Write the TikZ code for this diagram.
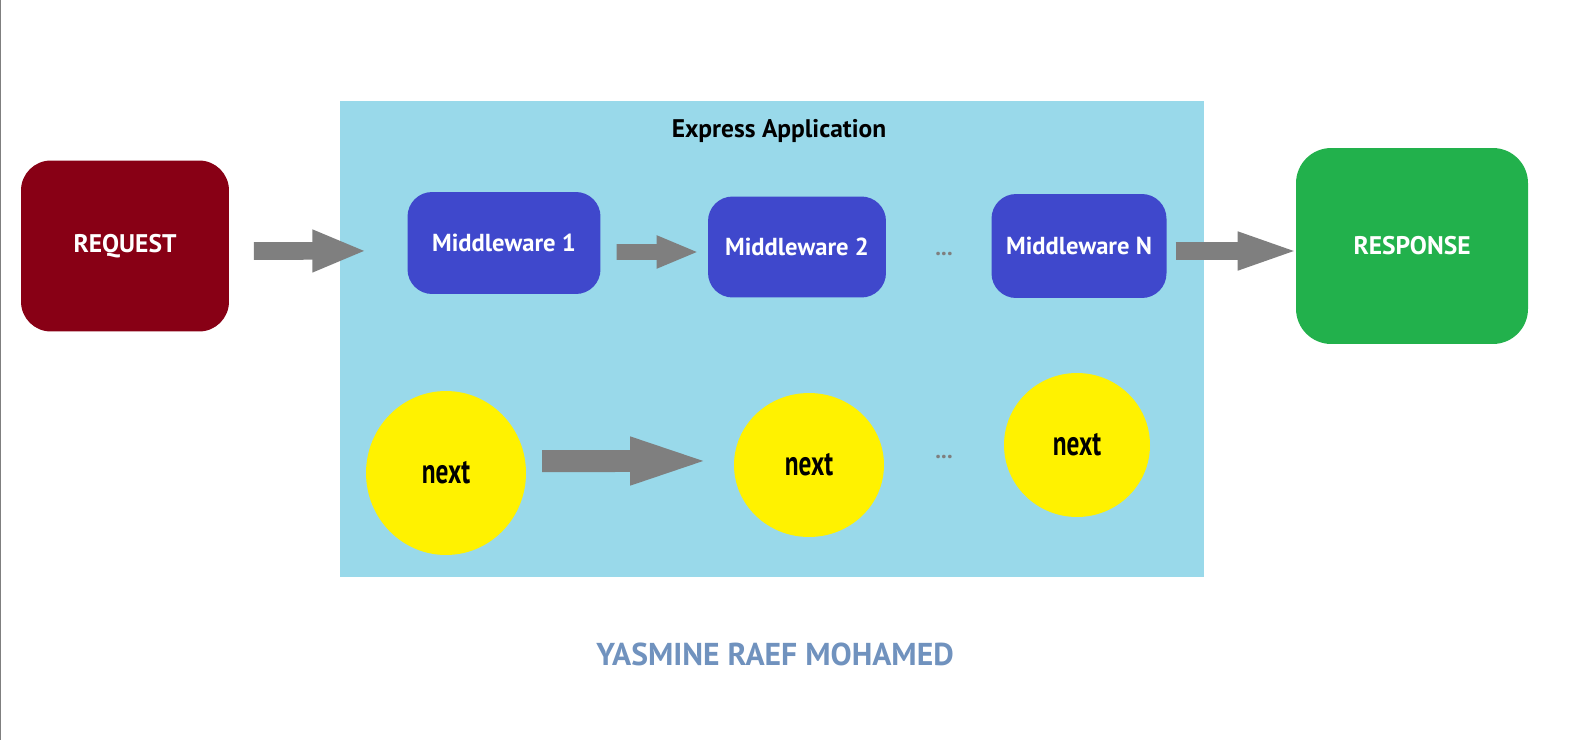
\documentclass[tikz,border=0pt]{standalone}
\usepackage{fontspec}
\setmainfont{PT Sans}
\newfontfamily\nextfont[FakeStretch=0.72]{PT Sans}
\usetikzlibrary{shapes.geometric,arrows.meta}
\definecolor{reqred}{HTML}{880015}
\definecolor{appblue}{HTML}{99D9EA}
\definecolor{mwblue}{HTML}{3F48CC}
\definecolor{resgreen}{HTML}{22B14C}
\definecolor{nextyellow}{HTML}{FFF200}
\definecolor{arrowgray}{HTML}{7F7F7F}
\definecolor{namecol}{HTML}{7092BE}
\tikzset{
  endbox/.style={rounded corners=17pt, inner sep=0pt, text=white, font=\bfseries\fontsize{14.5}{16}\selectfont},
  mwbox/.style={fill=mwblue, rounded corners=14pt, inner sep=0pt, text=white, font=\bfseries\fontsize{14}{16}\selectfont},
  nextnode/.style={ellipse, fill=nextyellow, inner sep=0pt, font=\nextfont\bfseries\fontsize{20}{22}\selectfont},
  dotsnode/.style={text=arrowgray, font=\bfseries\fontsize{13}{15}\selectfont},
  fatarrow/.style={draw=arrowgray, line width=10pt, -{Triangle[length=31pt,width=22pt]}}
}
\begin{document}
\begin{tikzpicture}[x=0.02cm, y=-0.02cm]
        \useasboundingbox (0,0) rectangle (1574,740);
        \draw[arrowgray, line width=0.6pt] (0.5,0) -- (0.5,740);
        %application
        \node[fill=appblue, minimum width=17.28cm, minimum height=9.54cm, inner sep=0pt] (app) at (772,339) {};
        \node[font=\bfseries\fontsize{14.5}{16}\selectfont] (title) at (779,131) {Express Application};
        %request and response
        \node[endbox, fill=reqred, minimum width=4.16cm, minimum height=3.42cm] (req) at (125,246) {REQUEST};
        \node[endbox, fill=resgreen, minimum width=4.64cm, minimum height=3.92cm, rounded corners=20pt] (resp) at (1412,246) {RESPONSE};
        %middlewares
        \node[mwbox, minimum width=3.86cm, minimum height=2.04cm] (mw1) at (504,243) {Middleware 1};
        \node[mwbox, minimum width=3.56cm, minimum height=2.02cm] (mw2) at (797,247) {Middleware 2};
        \node[mwbox, minimum width=3.5cm, minimum height=2.08cm] (mwn) at (1079,246) {Middleware N};
        \node[dotsnode] (dots1) at (944,254) {...};
        %next
        \node[nextnode, minimum width=3.2cm, minimum height=3.28cm] (n1) at (446,473) {next};
        \node[nextnode, minimum width=3.0cm, minimum height=2.88cm] (n2) at (809,465) {next};
        \node[nextnode, minimum width=2.92cm, minimum height=2.88cm] (n3) at (1077,445) {next};
        \node[dotsnode] (dots2) at (944,457) {...};
        \node[text=namecol, font=\bfseries\fontsize{18}{21}\selectfont] (name) at (775,654) {YASMINE RAEF MOHAMED};
        %arrows
        \draw[fatarrow] ([xshift=14pt,yshift=-2.85pt]req.east) -- ([xshift=-23pt,yshift=-4.5pt]mw1.west);
        \draw[fatarrow, line width=9pt, -{Triangle[length=24pt,width=17pt]}] ([xshift=9pt,yshift=-5.1pt]mw1.east) -- ([xshift=-5pt,yshift=-2.85pt]mw2.west);
        \draw[fatarrow, -{Triangle[length=36pt,width=19pt]}] ([xshift=5pt,yshift=-2.85pt]mwn.east) -- ([xshift=3pt,yshift=-2.85pt]resp.west);
        \draw[fatarrow, line width=12.5pt, -{Triangle[length=50pt,width=23pt]}] ([xshift=9pt,yshift=6.8pt]n1.east) -- ([xshift=-9pt,yshift=2.3pt]n2.west);
    \end{tikzpicture}
\end{document}
